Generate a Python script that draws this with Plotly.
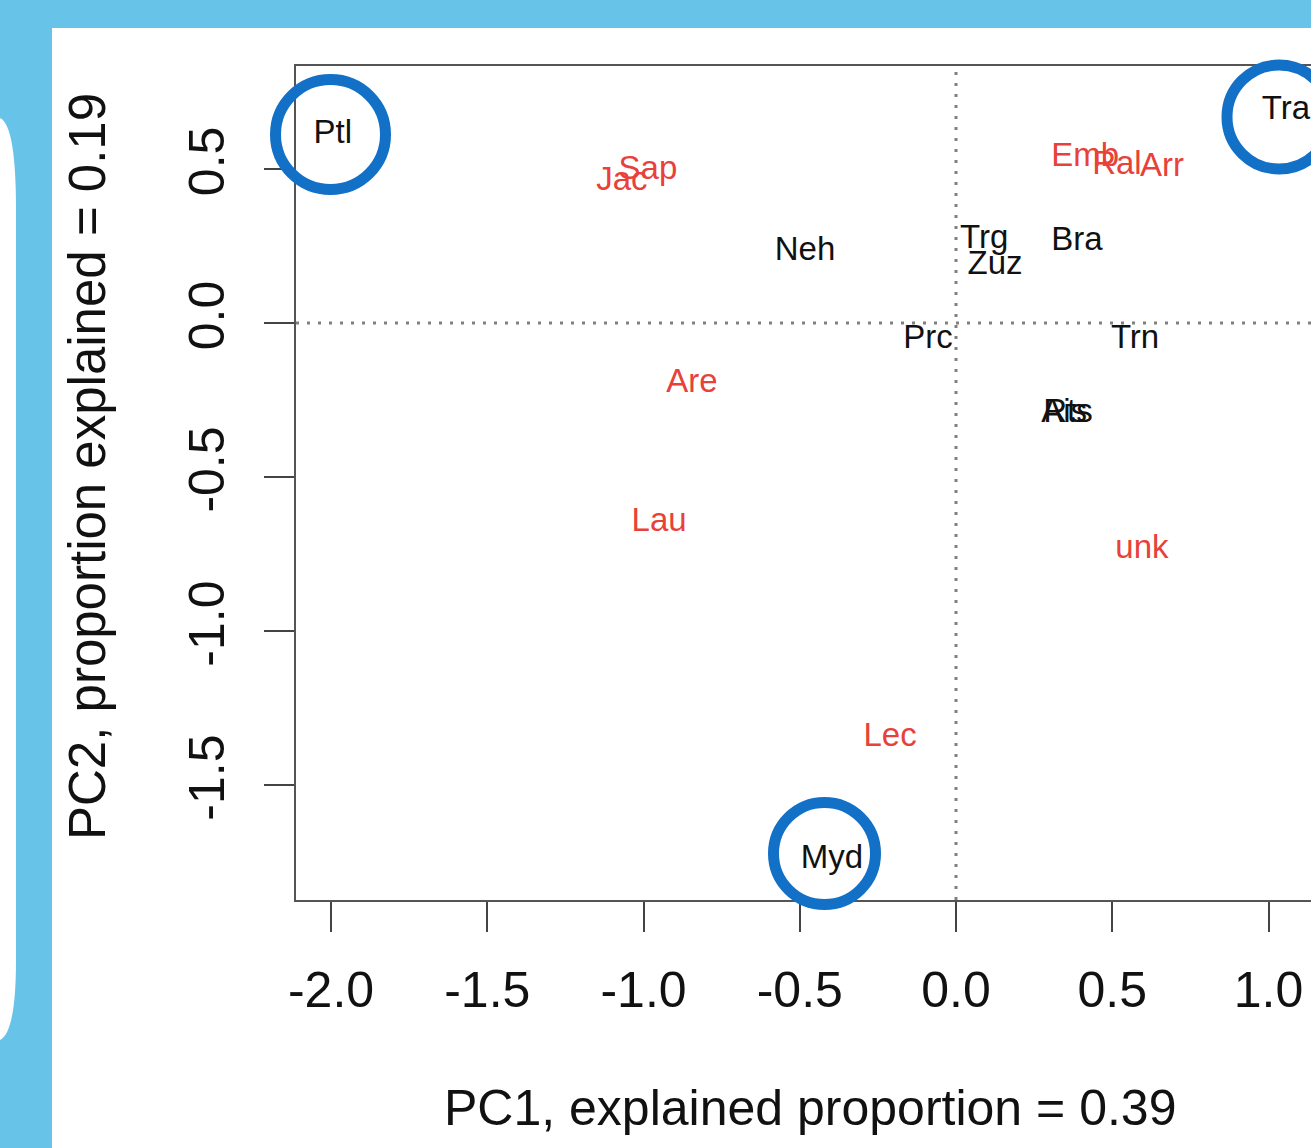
import plotly.graph_objects as go

# ---- data ----
black_labels = ["Ptl", "Neh", "Trg", "Zuz", "Bra", "Tra", "Prc", "Trn", "Ais", "Rts", "Myd"]
black_x = [-1.994, -0.483, 0.090, 0.125, 0.387, 1.056, -0.090, 0.573, 0.346, 0.358, -0.397]
black_y = [0.611, 0.232, 0.270, 0.186, 0.264, 0.689, -0.054, -0.054, -0.294, -0.294, -1.743]

red_labels = ["Jac", "Sap", "Emb", "Ral", "Arr", "Are", "Lau", "unk", "Lec"]
red_x = [-1.069, -0.986, 0.413, 0.515, 0.659, -0.845, -0.950, 0.595, -0.211]
red_y = [0.458, 0.494, 0.535, 0.509, 0.503, -0.197, -0.648, -0.736, -1.346]

x_ticks = [-2.0, -1.5, -1.0, -0.5, 0.0, 0.5, 1.0]
y_ticks = [-1.5, -1.0, -0.5, 0.0, 0.5]
x_title = "PC1, explained proportion = 0.39"
y_title = "PC2, proportion explained = 0.19"

# ---- layout constants (pixels) ----
W, H = 1311, 1148
FONT = "Liberation Sans, Arial, Helvetica, sans-serif"
BLUE_BG = "#67c3e8"
RING = "#1270c6"
RED = "#e8413a"
INK = "#111111"


def px(x):
    return x / W


def py(y):
    return 1 - y / H


fig = go.Figure()
fig.add_trace(go.Scatter(x=black_x, y=black_y, mode="text", text=black_labels,
                         textposition="middle center",
                         textfont=dict(family=FONT, size=33, color=INK),
                         hoverinfo="skip", showlegend=False))
fig.add_trace(go.Scatter(x=red_x, y=red_y, mode="text", text=red_labels,
                         textposition="middle center",
                         textfont=dict(family=FONT, size=33, color=RED),
                         hoverinfo="skip", showlegend=False))

shapes = []
# white panel
shapes.append(dict(type="rect", xref="paper", yref="paper", x0=px(52), x1=1.0, y0=0, y1=py(28),
                   fillcolor="white", line=dict(width=0), layer="below"))
# white rounded sliver at the far left
path = (f"M 0,{py(118)} Q {px(16)},{py(125)} {px(16)},{py(210)} "
        f"L {px(16)},{py(960)} Q {px(16)},{py(1032)} 0,{py(1040)} Z")
shapes.append(dict(type="path", xref="paper", yref="paper", path=path,
                   fillcolor="white", line=dict(width=0), layer="below"))
# dotted zero lines
shapes.append(dict(type="line", xref="x", yref="y domain", x0=0, x1=0, y0=0, y1=1,
                   line=dict(color="#808080", width=3, dash="3px,8px"), layer="below"))
shapes.append(dict(type="line", xref="x domain", yref="y", x0=0, x1=1, y0=0, y1=0,
                   line=dict(color="#808080", width=3, dash="3px,8px"), layer="below"))
# highlight rings
for cx, cy, r in [(330.5, 134.5, 55), (1279, 117, 52), (824.5, 853.5, 51)]:
    shapes.append(dict(type="circle", xref="paper", yref="paper",
                       x0=px(cx - r), x1=px(cx + r), y0=py(cy + r), y1=py(cy - r),
                       line=dict(color=RING, width=11), layer="above"))

annotations = [
    dict(text=x_title, xref="paper", yref="paper", x=px(810), y=py(1108),
         showarrow=False, font=dict(family=FONT, size=50, color=INK),
         xanchor="center", yanchor="middle"),
    dict(text=y_title, xref="paper", yref="paper", x=px(87), y=py(467),
         showarrow=False, font=dict(family=FONT, size=51, color=INK), textangle=-90,
         xanchor="center", yanchor="middle"),
]

fig.update_layout(
    width=W, height=H,
    margin=dict(l=0, r=0, t=0, b=0, pad=0),
    paper_bgcolor=BLUE_BG,
    plot_bgcolor="white",
    shapes=shapes,
    annotations=annotations,
    showlegend=False,
    xaxis=dict(domain=[296 / W, 1.0], range=[-2.112, 1.136], showgrid=False, zeroline=False,
               tickmode="array", tickvals=x_ticks, ticktext=[f"{v:.1f}" for v in x_ticks],
               ticks="outside", ticklen=30, tickwidth=2, tickcolor="#444",
               ticklabelstandoff=15,
               showline=True, linecolor="#555", linewidth=2, mirror=True,
               tickfont=dict(family=FONT, size=50, color=INK), automargin=False),
    yaxis=dict(domain=[1 - 900 / H, 1 - 66 / H], range=[-1.873, 0.834], showgrid=False, zeroline=False,
               tickmode="array", tickvals=y_ticks, ticktext=[f"{v:.1f}" for v in y_ticks],
               ticks="outside", ticklen=30, tickwidth=2, tickcolor="#444", tickangle=-90,
               ticklabelstandoff=20,
               showline=True, linecolor="#555", linewidth=2, mirror=False,
               tickfont=dict(family=FONT, size=50, color=INK), automargin=False),
)

fig.write_html("out.html", config={"displayModeBar": False},
               post_script="document.body.style.margin='0';document.body.style.overflow='hidden';")
